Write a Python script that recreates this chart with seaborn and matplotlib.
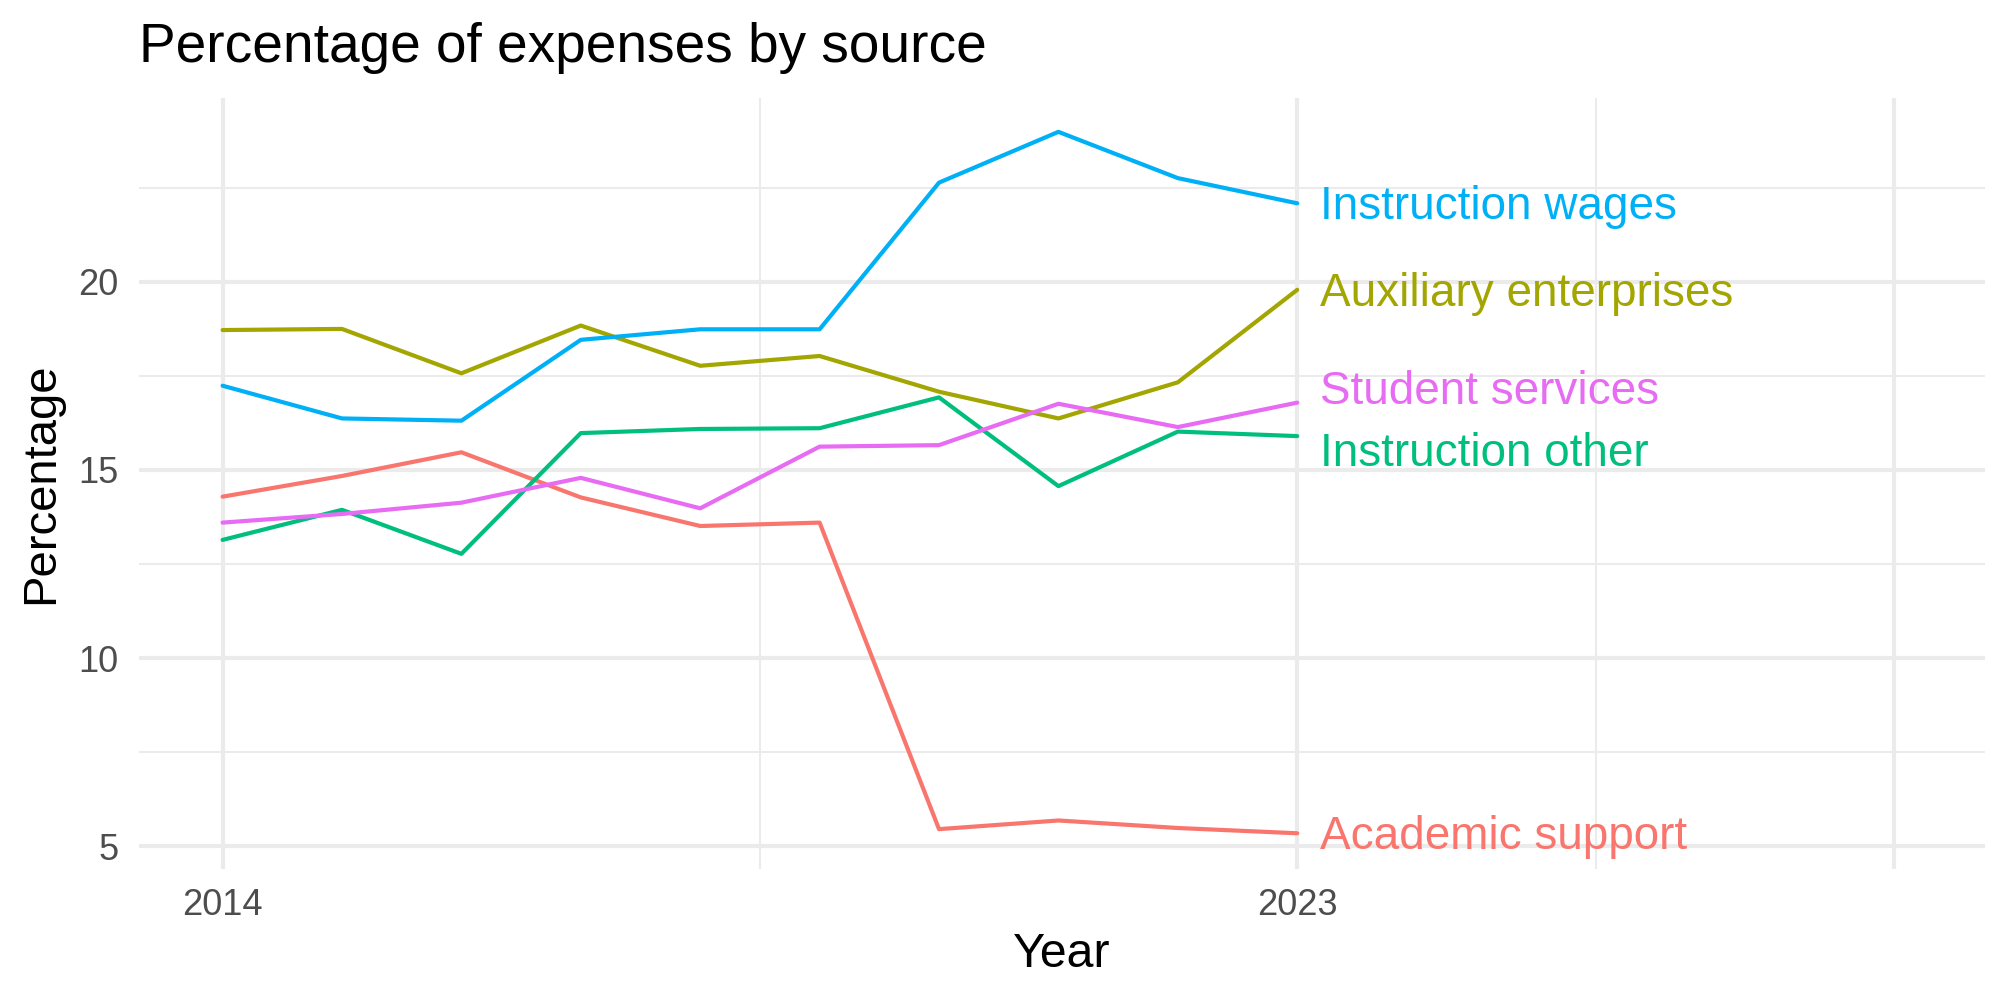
import numpy as np
import pandas as pd
import seaborn as sns
import matplotlib.pyplot as plt
from matplotlib.ticker import FixedLocator

# data
years = [2014, 2015, 2016, 2017, 2018, 2019, 2020, 2021, 2022, 2023]
academic_support = [14.29, 14.84, 15.47, 14.27, 13.51, 13.60, 5.45, 5.68, 5.48, 5.34]
auxiliary_enterprises = [18.72, 18.75, 17.57, 18.84, 17.77, 18.03, 17.08, 16.37, 17.33, 19.79]
instruction_other = [13.14, 13.94, 12.77, 15.98, 16.09, 16.11, 16.93, 14.57, 16.02, 15.90]
instruction_wages = [17.24, 16.37, 16.31, 18.46, 18.74, 18.74, 22.64, 23.99, 22.76, 22.09]
student_services = [13.60, 13.83, 14.13, 14.79, 13.98, 15.62, 15.66, 16.76, 16.14, 16.79]

sources = ["Academic support", "Auxiliary enterprises", "Instruction other",
           "Instruction wages", "Student services"]
series = [academic_support, auxiliary_enterprises, instruction_other,
          instruction_wages, student_services]
colors = ["#F8766D", "#A3A500", "#00BF7D", "#00B0F6", "#E76BF3"]

df = pd.DataFrame({
    "Year": np.tile(years, len(sources)),
    "Percentage": np.concatenate(series),
    "Source": np.repeat(sources, len(years)),
})

sns.set_style("white")
plt.rcParams['font.family'] = ['Liberation Sans', 'DejaVu Sans']
plt.rcParams['text.color'] = 'black'
plt.rcParams['axes.labelcolor'] = 'black'

fig = plt.figure(figsize=(10, 5), dpi=200)
ax = fig.add_axes([0.0695, 0.131, 0.923, 0.771])

sns.lineplot(data=df, x="Year", y="Percentage", hue="Source", hue_order=sources,
             palette=colors, linewidth=1.5, legend=False, ax=ax, zorder=3)

# end labels, pushed apart a little like ggrepel does
last = df[df.Year == years[-1]].set_index("Source")["Percentage"]
order = last.sort_values().index.tolist()
pos = last.sort_values().values.copy()
min_gap = 1.66
for _ in range(50):
    for i in range(1, len(pos)):
        gap = pos[i] - pos[i - 1]
        if gap < min_gap:
            shift = (min_gap - gap) / 2
            pos[i] += shift
            pos[i - 1] -= shift
for name, y in zip(order, pos):
    ax.text(years[-1] + 0.19, y - 0.1, name, color=colors[sources.index(name)],
            fontsize=16.5, va="center", ha="left", zorder=4)

ax.set_xlim(2013.3, 2028.76)
ax.set_ylim(4.39, 24.89)
ax.xaxis.set_major_locator(FixedLocator([2014, 2023, 2028]))
ax.set_xticklabels(["2014", "2023", ""])
ax.xaxis.set_minor_locator(FixedLocator([2018.5, 2025.5]))
ax.yaxis.set_major_locator(FixedLocator([5, 10, 15, 20]))
ax.yaxis.set_minor_locator(FixedLocator([7.5, 12.5, 17.5, 22.5]))

ax.grid(which="major", color="#EBEBEB", linewidth=1.5)
ax.grid(which="minor", color="#EBEBEB", linewidth=0.75)
ax.set_axisbelow(True)
for s in ax.spines.values():
    s.set_visible(False)
ax.tick_params(which="both", length=0, labelsize=13, labelcolor="#4D4D4D")
ax.tick_params(axis="y", pad=7.5)
ax.tick_params(axis="x", pad=7)

ax.set_xlabel("Year", fontsize=17.4, labelpad=3)
ax.set_ylabel("Percentage", fontsize=17)
ax.yaxis.set_label_coords(-0.041, 0.5)
ax.set_title("Percentage of expenses by source", fontsize=19.8, loc="left", pad=13)

fig.savefig("out.png", dpi=200)
